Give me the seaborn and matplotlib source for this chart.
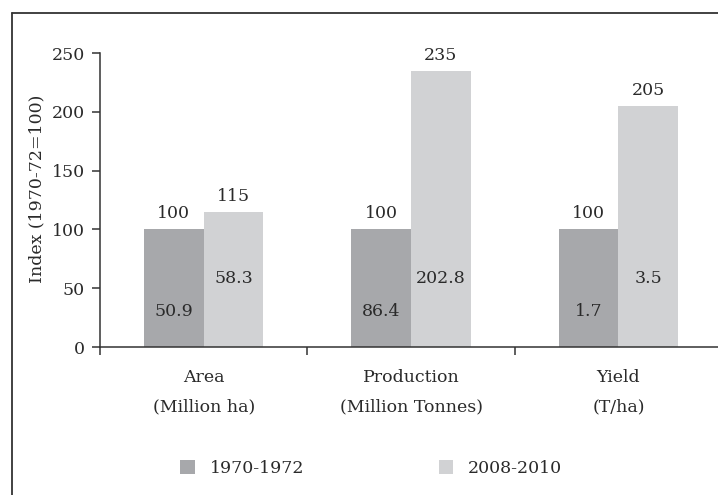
import numpy as np
import pandas as pd
import matplotlib
matplotlib.use('Agg')
import matplotlib.pyplot as plt
from matplotlib.lines import Line2D
import seaborn as sns

# data
categories = ['Area\n(Million ha)', 'Production\n(Million Tonnes)', 'Yield\n(T/ha)']
periods = ['1970-1972', '2008-2010']
index_1970 = [100, 100, 100]
index_2008 = [115, 235, 205]
actual_1970 = ['50.9', '86.4', '1.7']
actual_2008 = ['58.3', '202.8', '3.5']
y_ticks = [0, 50, 100, 150, 200, 250]

df = pd.DataFrame({
    'category': categories * 2,
    'period': [periods[0]] * 3 + [periods[1]] * 3,
    'index': index_1970 + index_2008,
})

sns.set_style('white')
plt.rcParams['font.family'] = ['DejaVu Serif']
plt.rcParams['font.size'] = 12.5
plt.rcParams['text.color'] = '#2a2a2a'

dark = '#a7a8ab'
light = '#d1d2d4'
ink = '#2a2a2a'

fig = plt.figure(figsize=(7.1805, 4.9505), dpi=100)
# axes runs to the right edge; the x axis is cut there like in the scan
ax = fig.add_axes([100 / 718, 1 - 347 / 495, 618 / 718, 294 / 495])
ax.patch.set_visible(False)

sns.barplot(data=df, x='category', y='index', hue='period', order=categories,
            hue_order=periods, palette=[dark, light], width=0.575,
            saturation=1, linewidth=0, ax=ax)

ax.set_xlim(-0.5, -0.5 + 3 * 618 / 622)
ax.set_ylim(0, 250)
ax.set_yticks(y_ticks)
ax.set_xlabel('')
ax.set_ylabel('Index (1970-72=100)', color=ink)
ax.yaxis.set_label_coords(-0.0886, 0.537)

sns.despine(ax=ax)
for s in ['left', 'bottom']:
    ax.spines[s].set_color('#333333')
    ax.spines[s].set_linewidth(1.1)

ax.tick_params(axis='y', left=True, length=6, width=1.1,
               color='#333333', pad=5, labelcolor=ink)
ax.tick_params(axis='x', which='major', length=0, pad=16, labelcolor=ink)
for t in ax.get_xticklabels():
    t.set_linespacing(1.95)
ax.set_xticks([-0.5, 0.5, 1.5], minor=True)
ax.tick_params(axis='x', which='minor', bottom=True, length=6, width=1.1,
               color='#333333')

# value labels
for cont, inner, y_in in zip(ax.containers, [actual_1970, actual_2008], [30, 58]):
    ax.bar_label(cont, fmt='%d', padding=5, color=ink)
    for bar, lab in zip(cont, inner):
        ax.text(bar.get_x() + bar.get_width() / 2, y_in, lab,
                ha='center', va='center', color=ink)

sns.move_legend(ax, loc='center', bbox_to_anchor=(0.517, 0.054),
                bbox_transform=fig.transFigure, ncol=2, frameon=False,
                title=None, handlelength=0.85, handleheight=0.85,
                handletextpad=0.85, columnspacing=7.75)

# outer frame (left and top edges visible)
fig.add_artist(Line2D([11.5 / 718, 11.5 / 718], [0, 1 - 13 / 495],
                      color='#333333', lw=1.3))
fig.add_artist(Line2D([11.5 / 718, 1.0], [1 - 13 / 495, 1 - 13 / 495],
                      color='#333333', lw=1.3))

fig.savefig('out.png', dpi=100)
